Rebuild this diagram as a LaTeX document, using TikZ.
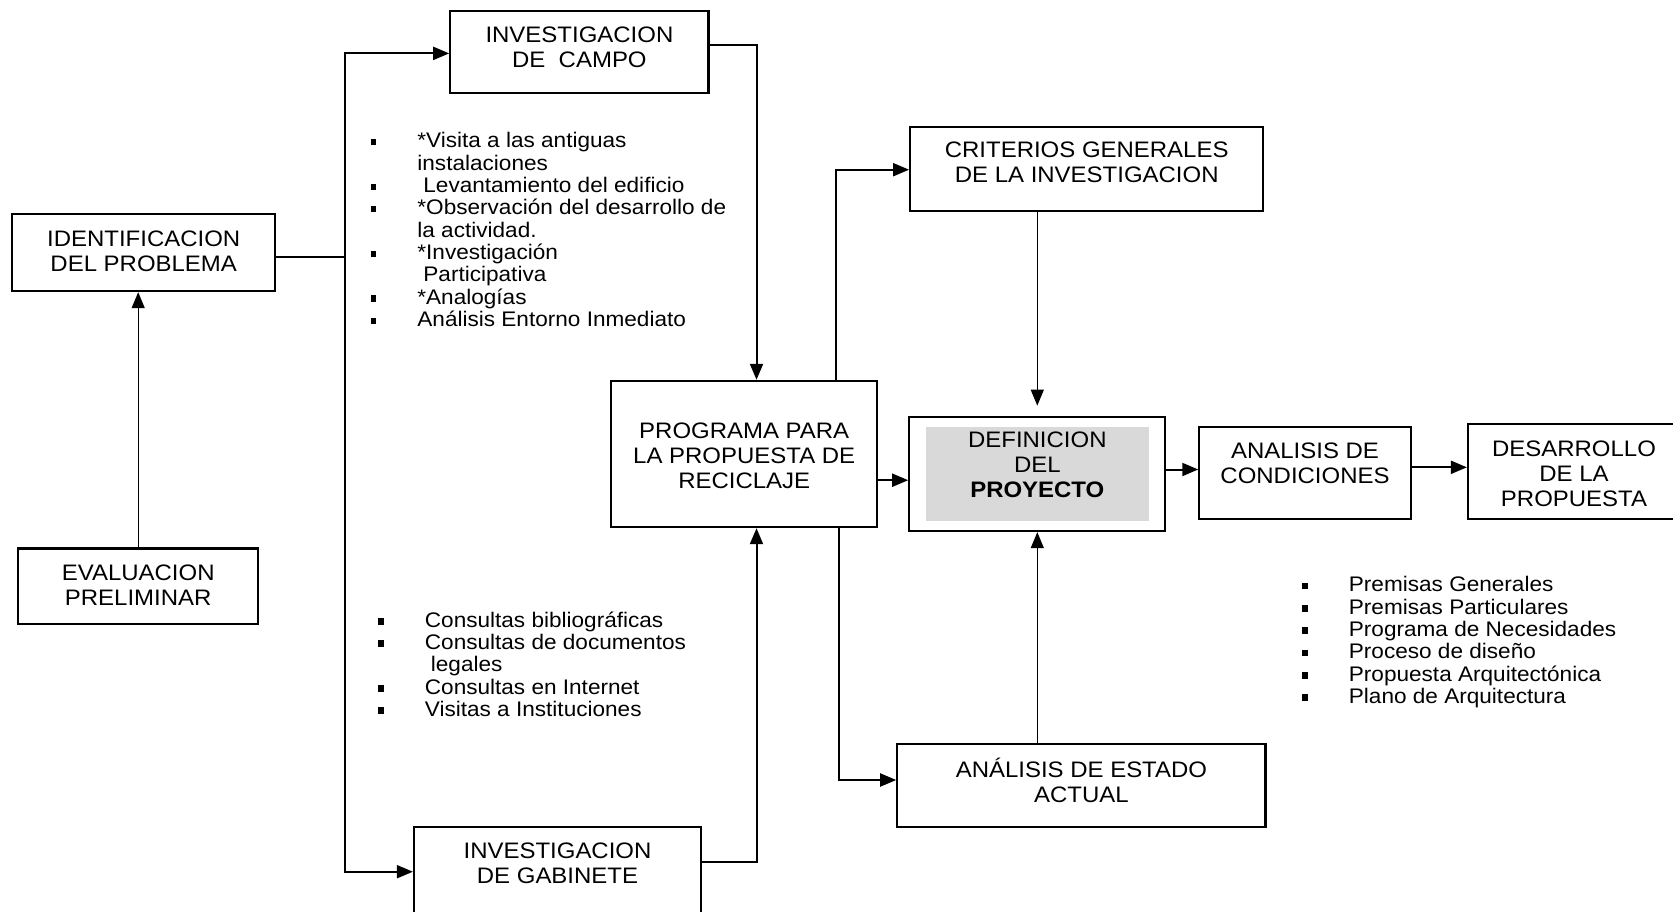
\documentclass[tikz,border=0pt]{standalone}
\usepackage{fontspec}
\setmainfont[FakeStretch=1.07]{Liberation Sans}
\usepackage{tikz}
\usetikzlibrary{arrows.meta,positioning}
\setlength{\lineskiplimit}{-100pt}
\definecolor{shade}{HTML}{D9D9D9}
\newcommand{\bul}{\llap{\rule[2.5pt]{5.5pt}{6.5pt}\hspace{41pt}}}
\tikzset{
	>={Triangle[length=16pt,width=13pt]},
	box/.style = {
			draw,
			line width = 2.2pt,
			inner sep = 0pt,
		},
	boxtext/.style = {
			align = center,
			inner sep = 0pt,
			font = \fontsize{22.4}{25}\selectfont,
		},
	item/.style = {
			anchor = base west,
			inner sep = 0pt,
			font = \fontsize{21.1}{22.4}\selectfont,
		},
	link/.style = {line width=2pt},
	thinlink/.style = {line width=1.3pt},
}

\begin{document}
\begin{tikzpicture}[x=1pt,y=-1pt]
	\useasboundingbox (0,0) rectangle (1673,911);
	\clip (0,0) rectangle (1673,911);

	% boxes
	\node[box, minimum width=263.3pt, minimum height=76.7pt] (ident) at (143.7,252.7) {};
	\node[box, minimum width=240.1pt, minimum height=75.8pt] (eval) at (138.2,586.3) {};
	\node[box, minimum width=258.2pt, minimum height=82.1pt] (campo) at (579.4,51.8) {};
	\node[box, minimum width=287pt, minimum height=108pt] (gab) at (557.5,881.3) {};
	\node[box, minimum width=265.7pt, minimum height=146.2pt] (prog) at (744.2,454) {};
	\node[box, minimum width=353.1pt, minimum height=84.3pt] (crit) at (1086.7,169.1) {};
	\node[box, minimum width=256pt, minimum height=114.3pt] (def) at (1037.3,473.9) {};
	\node[fill=shade, inner sep=0pt, minimum width=223pt, minimum height=94.3pt] (defshade) at (1037.5,473.8) {};
	\node[box, minimum width=368.2pt, minimum height=83.2pt] (estado) at (1081.4,785.3) {};
	\node[box, minimum width=211.3pt, minimum height=91.8pt] (cond) at (1305,472.7) {};
	\node[box, minimum width=212pt, minimum height=95pt] (des) at (1574,471.8) {};

	% box texts
	\node[boxtext] (identtext) at ([yshift=1.5pt]ident.center) {IDENTIFICACION\\DEL PROBLEMA};
	\node[boxtext] (evaltext) at ([yshift=1.6pt]eval.center) {EVALUACION\\PRELIMINAR};
	\node[boxtext] (campotext) at ([yshift=4.8pt]campo.center) {INVESTIGACION\\DE\ \ CAMPO};
	\node[boxtext] (gabtext) at ([yshift=-36.9pt]gab.north) {INVESTIGACION\\DE GABINETE};
	\node[boxtext] (progtext) at ([yshift=-1.6pt]prog.center) {PROGRAMA PARA\\LA PROPUESTA DE\\RECICLAJE};
	\node[boxtext] (crittext) at ([yshift=6.4pt]crit.center) {CRITERIOS GENERALES\\DE LA INVESTIGACION};
	\node[boxtext] (deftext) at ([yshift=8.9pt]def.center) {DEFINICION\\DEL\\\textbf{PROYECTO}};
	\node[boxtext] (estadotext) at ([yshift=5.3pt]estado.center) {ANÁLISIS DE ESTADO\\ACTUAL};
	\node[boxtext] (condtext) at ([yshift=9.6pt]cond.center) {ANALISIS DE\\CONDICIONES};
	\node[boxtext] (destext) at ([yshift=-2.4pt]des.center) {DESARROLLO\\DE LA\\PROPUESTA};

	% lists
	\foreach \txt [count=\i from 0] in {
			{\bul *Visita a las antiguas},
			{instalaciones},
			{\bul\hspace{6pt}Levantamiento del edificio},
			{\bul *Observación del desarrollo de},
			{la actividad.},
			{\bul *Investigación},
			{\hspace{6pt}Participativa},
			{\bul *Analogías},
			{\bul Análisis Entorno Inmediato}}
		\node[item] (campoitem\i) at (417.2,147.8+22.35*\i) {\txt};

	\foreach \txt [count=\i from 0] in {
			{\bul Consultas bibliográficas},
			{\bul Consultas de documentos},
			{\hspace{6pt}legales},
			{\bul Consultas en Internet},
			{\bul Visitas a Instituciones}}
		\node[item] (gabitem\i) at (424.7,627+22.35*\i) {\txt};

	\foreach \txt [count=\i from 0] in {
			Premisas Generales,
			Premisas Particulares,
			Programa de Necesidades,
			Proceso de diseño,
			Propuesta Arquitectónica,
			Plano de Arquitectura}
		\node[item] (desitem\i) at (1348.7,591.7+22.35*\i) {\bul \txt};

	% connectors
	\coordinate (fork) at (344.6,257);
	\coordinate (forktop) at (344.6,53.4);
	\coordinate (forkbot) at (344.6,871.7);
	\coordinate (campoturn) at (756.5,44.8);
	\coordinate (gabturn) at (756.5,862);
	\coordinate (critturn) at (835.5,169.7);
	\coordinate (estturn) at (838.7,780);
	\coordinate (defin) at (0,480.2);
	\coordinate (condin) at (0,469.5);
	\coordinate (desin) at (0,467.3);

	\draw[thinlink,->] (eval.north) -- (eval.north |- ident.south);
	\draw[link] (ident.east |- fork) -- (fork);
	\draw[link,->] (fork) -- (forktop) -- (forktop -| campo.west);
	\draw[link,->] (fork) -- (forkbot) -- (forkbot -| gab.west);
	\draw[link,->] (campo.east |- campoturn) -- (campoturn) -- (campoturn |- prog.north);
	\draw[link,->] (gab.east |- gabturn) -- (gabturn) -- (gabturn |- prog.south);
	\draw[link,->] (critturn |- prog.north) -- (critturn) -- (critturn -| crit.west);
	\draw[thinlink,->,shorten >=10pt] (def.north |- crit.south) -- (def.north);
	\draw[link,->] (prog.east |- defin) -- (def.west |- defin);
	\draw[link,->] (estturn |- prog.south) -- (estturn) -- (estturn -| estado.west);
	\draw[thinlink,->] (def.south |- estado.north) -- (def.south);
	\draw[link,->] (def.east |- condin) -- (cond.west |- condin);
	\draw[link,->] (cond.east |- desin) -- (des.west |- desin);
\end{tikzpicture}
\end{document}
